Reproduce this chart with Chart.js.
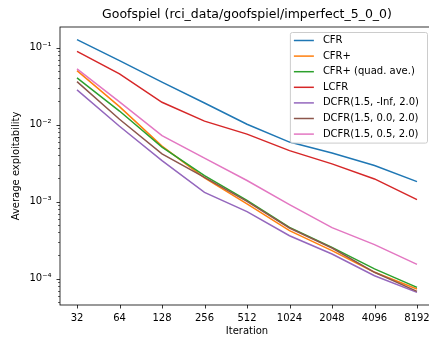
<!DOCTYPE html>
<html><head><meta charset="utf-8">
<script src="https://cdn.jsdelivr.net/npm/chart.js@4.4.1/dist/chart.umd.min.js"></script>
<style>
html,body{margin:0;padding:0;background:#fff;overflow:hidden;width:429px;height:338px}
#wrap{width:429px;height:338px;overflow:hidden;position:relative}
canvas{display:block}
</style></head>
<body><div id="wrap"><canvas id="c" width="440" height="338"></canvas></div>
<script>
// ---- data ----
const iterations = [32, 64, 128, 256, 512, 1024, 2048, 4096, 8192];
const cfr         = [0.127, 0.0678, 0.0356, 0.0191, 0.0101, 0.00593, 0.00427, 0.00294, 0.00182];
const cfrPlus     = [0.0502, 0.0171, 0.00526, 0.00203, 0.000933, 0.000420, 0.000231, 0.000121, 0.0000734];
const cfrPlusQuad = [0.0404, 0.0150, 0.00511, 0.00218, 0.00104, 0.000463, 0.000255, 0.000134, 0.0000771];
const lcfr        = [0.0895, 0.0455, 0.0195, 0.0111, 0.00753, 0.00459, 0.00309, 0.00197, 0.00106];
const dcfrNegInf  = [0.0283, 0.00951, 0.00340, 0.00132, 0.000741, 0.000361, 0.000209, 0.000109, 0.0000664];
const dcfr00      = [0.0361, 0.01175, 0.00416, 0.00207, 0.00101, 0.000455, 0.000250, 0.000121, 0.0000684];
const dcfr05      = [0.0528, 0.0197, 0.00719, 0.00367, 0.00188, 0.000914, 0.000459, 0.000277, 0.000153];

const seriesLabels = ['CFR', 'CFR+', 'CFR+ (quad. ave.)', 'LCFR', 'DCFR(1.5, -Inf, 2.0)', 'DCFR(1.5, 0.0, 2.0)', 'DCFR(1.5, 0.5, 2.0)'];
const seriesValues = [cfr, cfrPlus, cfrPlusQuad, lcfr, dcfrNegInf, dcfr00, dcfr05];
const seriesColors = ['#1f77b4', '#ff7f0e', '#2ca02c', '#d62728', '#9467bd', '#8c564b', '#e377c2'];

const xTicks = iterations;
const yTicks = [1e-4, 1e-3, 1e-2, 1e-1];
const yTickLabels = ['10\u207B\u2074', '10\u207B\u00B3', '10\u207B\u00B2', '10\u207B\u00B9'];

const titleText = 'Goofspiel (rci_data/goofspiel/imperfect_5_0_0)';
const xTitle = 'Iteration';
const yTitle = 'Average exploitability';

const FONT = "'DejaVu Sans', 'Liberation Sans', sans-serif";
Chart.defaults.font.family = FONT;
Chart.defaults.font.size = 10;
Chart.defaults.color = '#000';

const yRange = { min: 4.55e-5, max: 0.185 };
const xRange = { min: 24.25, max: 10809 };

const decor = {
  id: 'decor',
  afterDatasetsDraw(chart) {
    const { ctx, chartArea: a, scales: { x, y } } = chart;
    ctx.save();
    // title centred over the plot area
    ctx.font = '12.5px ' + FONT;
    ctx.fillStyle = '#000';
    ctx.textAlign = 'center';
    ctx.textBaseline = 'middle';
    ctx.fillText(titleText, (a.left + a.right) / 2, 15);
    // frame
    ctx.strokeStyle = '#000';
    ctx.lineWidth = 0.8;
    ctx.strokeRect(a.left, a.top, a.right - a.left, a.bottom - a.top);
    // tick marks
    ctx.beginPath();
    xTicks.forEach(v => {
      const p = Math.round(x.getPixelForValue(v)) + 0.5;
      ctx.moveTo(p, a.bottom); ctx.lineTo(p, a.bottom + 3.5);
    });
    yTicks.forEach(v => {
      const p = Math.round(y.getPixelForValue(v)) + 0.5;
      ctx.moveTo(a.left - 3.5, p); ctx.lineTo(a.left, p);
    });
    ctx.stroke();
    ctx.beginPath();
    ctx.lineWidth = 0.6;
    for (let e = -5; e <= -1; e++) {
      for (let k = 2; k <= 9; k++) {
        const v = k * Math.pow(10, e);
        if (v < yRange.min || v > yRange.max) continue;
        const p = Math.round(y.getPixelForValue(v)) + 0.5;
        ctx.moveTo(a.left - 2, p); ctx.lineTo(a.left, p);
      }
    }
    ctx.stroke();

    // legend
    ctx.font = '10px ' + FONT;
    const ds = chart.data.datasets;
    const tw = Math.max(...ds.map(d => ctx.measureText(d.label).width));
    const right = a.right - 7, top = a.top + 5;
    const w = 33 + tw + 8;
    const left = right - w;
    const rowH = 15.6;
    const h = 8.5 + rowH * (ds.length - 1) + 8.5;
    ctx.beginPath();
    ctx.roundRect(left + 0.5, top + 0.5, w, h, 2);
    ctx.fillStyle = 'rgba(255,255,255,0.8)';
    ctx.fill();
    ctx.strokeStyle = '#cccccc';
    ctx.lineWidth = 1;
    ctx.stroke();
    ds.forEach((d, i) => {
      const yy = top + 8.5 + i * rowH;
      ctx.beginPath();
      ctx.strokeStyle = d.borderColor;
      ctx.lineWidth = 1.5;
      ctx.moveTo(left + 4, yy); ctx.lineTo(left + 24, yy);
      ctx.stroke();
      ctx.fillStyle = '#000';
      ctx.textBaseline = 'middle';
      ctx.textAlign = 'left';
      ctx.fillText(d.label, left + 33, yy);
    });
    ctx.restore();
  }
};

const datasets = seriesLabels.map((label, i) => ({
  label,
  data: iterations.map((it, j) => ({ x: it, y: seriesValues[i][j] })),
  borderColor: seriesColors[i],
  backgroundColor: seriesColors[i],
  borderWidth: 1.5,
  pointRadius: 0,
  tension: 0,
  fill: false,
  order: seriesLabels.length - i
}));

new Chart(document.getElementById('c'), {
  type: 'line',
  data: { datasets },
  options: {
    responsive: false,
    animation: false,
    devicePixelRatio: 1,
    layout: { padding: { left: 0, right: 6, top: 27, bottom: 0 } },
    plugins: {
      legend: { display: false },
      tooltip: { enabled: false },
      title: { display: false }
    },
    scales: {
      x: {
        type: 'logarithmic', bounds: 'data', min: xRange.min, max: xRange.max,
        afterBuildTicks: s => { s.ticks = xTicks.map(v => ({ value: v })); },
        afterFit: s => { s.height = 33; },
        ticks: { callback: v => String(v), autoSkip: false, maxRotation: 0, padding: 3.5, color: '#000' },
        grid: { display: false, drawTicks: true, tickLength: 3.5 },
        border: { display: false },
        title: { display: true, text: xTitle, color: '#000', padding: { top: 0, bottom: 0.3 } }
      },
      y: {
        type: 'logarithmic', bounds: 'data', min: yRange.min, max: yRange.max,
        afterBuildTicks: s => { s.ticks = yTicks.map(v => ({ value: v })); },
        afterFit: s => { s.width = 60; },
        ticks: {
          callback: (v) => { const i = yTicks.findIndex(t => Math.abs(t - v) / t < 1e-6); return i >= 0 ? yTickLabels[i] : ''; },
          autoSkip: false, padding: 5, color: '#000'
        },
        grid: { display: false, drawTicks: true, tickLength: 3.5 },
        border: { display: false },
        title: { display: true, text: yTitle, color: '#000', padding: { top: 10.7, bottom: 0 } }
      }
    }
  },
  plugins: [decor]
});
</script>
</body></html>
